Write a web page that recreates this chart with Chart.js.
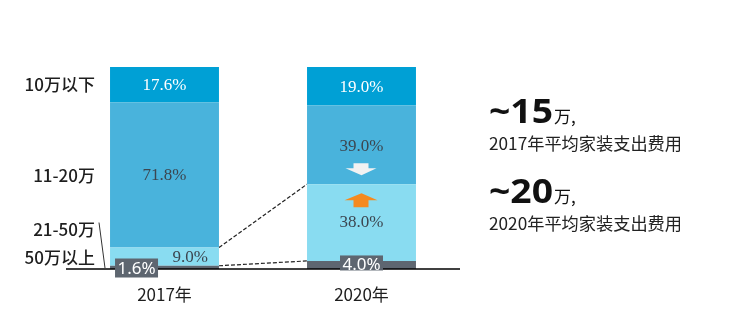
<!DOCTYPE html>
<html>
<head>
<meta charset="utf-8">
<script src="https://cdn.jsdelivr.net/npm/chart.js@4.4.0/dist/chart.umd.min.js"></script>
<style>
html,body{margin:0;padding:0;background:#fff;}
#wrap{position:relative;width:740px;height:319px;}
</style>
</head>
<body>
<div id="wrap"><canvas id="c" width="740" height="319"></canvas></div>
<script>
// ---- data ----
const years = ['2017年', '2020年'];
const tierNames = ['50万以上', '21-50万', '11-20万', '10万以下']; // bottom -> top
const over50 = [1.6, 4.0];
const from21to50 = [9.0, 38.0];
const from11to20 = [71.8, 39.0];
const under10 = [17.6, 19.0];
const avgSpend = ['~15', '~20'];
const avgSpendUnit = '万,';
const avgSpendCaption = ['2017年平均家装支出费用', '2020年平均家装支出费用'];

const colors = ['#5e6670', '#89dcf1', '#49b3dc', '#00a0d5'];
const seriesValues = [over50, from21to50, from11to20, under10];

const SERIF = '"Liberation Serif", "DejaVu Serif", serif';
const SANS = '"Noto Sans CJK SC", "Noto Sans", sans-serif';

function fitText(ctx, text, x, y, targetW, align) {
  const w = ctx.measureText(text).width;
  const s = targetW ? targetW / w : 1;
  ctx.save();
  ctx.translate(x, y);
  ctx.scale(s, 1);
  ctx.textAlign = align || 'left';
  ctx.fillText(text, 0, 0);
  ctx.restore();
  return w * s;
}

const decorPlugin = {
  id: 'decor',
  beforeDatasetsDraw(chart) {
    const ctx = chart.ctx;
    const metas = [0,1,2,3].map(i => chart.getDatasetMeta(i));
    ctx.save();
    ctx.strokeStyle = '#222';
    ctx.lineWidth = 1.2;
    ctx.setLineDash([4, 2]);
    const b17 = metas[1].data[0], b20 = metas[1].data[1];
    const r17 = b17.x + b17.width / 2, l20 = b20.x - b20.width / 2;
    ctx.beginPath();
    ctx.moveTo(r17, metas[1].data[0].y);
    ctx.lineTo(l20, metas[1].data[1].y);
    ctx.moveTo(r17, metas[0].data[0].y);
    ctx.lineTo(l20, metas[0].data[1].y);
    ctx.stroke();
    ctx.restore();
  },
  afterDatasetsDraw(chart) {
    const ctx = chart.ctx;
    const ca = chart.chartArea;
    const ys = chart.scales.y;
    const metas = [0,1,2,3].map(i => chart.getDatasetMeta(i));

    // baseline
    ctx.save();
    ctx.strokeStyle = '#000';
    ctx.lineWidth = 1.5;
    ctx.beginPath();
    ctx.moveTo(ca.left, ca.bottom);
    ctx.lineTo(ca.right, ca.bottom);
    ctx.stroke();
    ctx.restore();

    ctx.save();
    ctx.textBaseline = 'middle';
    ctx.font = '17px ' + SERIF;
    ctx.fillStyle = '#ffffff';
    metas[3].data.forEach((b, i) => {
      ctx.textAlign = 'center';
      ctx.fillText(under10[i].toFixed(1) + '%', b.x, (b.y + b.base) / 2 + 1);
    });
    ctx.fillStyle = '#3c4650';
    metas[2].data.forEach((b, i) => {
      ctx.textAlign = 'center';
      const dy = i === 1 ? 2 : 0;
      ctx.fillText(from11to20[i].toFixed(1) + '%', b.x, (b.y + b.base) / 2 + dy);
    });
    metas[1].data.forEach((b, i) => {
      const cy = (b.y + b.base) / 2;
      if (i === 0) {
        ctx.textAlign = 'right';
        ctx.fillText(from21to50[i].toFixed(1) + '%', b.x + b.width / 2 - 11, cy + 1);
      } else {
        ctx.textAlign = 'center';
        ctx.fillText(from21to50[i].toFixed(1) + '%', b.x, cy);
      }
    });
    // 50+ labels in grey boxes
    ctx.font = '17px "Noto Sans", "Open Sans", sans-serif';
    metas[0].data.forEach((b, i) => {
      const txt = over50[i].toFixed(1) + '%';
      const w = 43, h = i === 0 ? 19 : 15;
      let cx, cy;
      if (i === 0) { cx = b.x - b.width / 2 + 5 + w / 2; cy = b.base - 1; }
      else { cx = b.x; cy = (b.y + b.base) / 2 - 1; }
      ctx.fillStyle = '#5e6670';
      ctx.fillRect(cx - w / 2, cy - h / 2 + (i === 0 ? 0 : -1), w, h);
      ctx.fillStyle = '#ffffff';
      ctx.textAlign = 'center';
      ctx.fillText(txt, cx, cy + 1);
    });

    // arrows in 2020 bar
    const bx = metas[2].data[1].x;
    const midY = metas[2].data[1].base;
    ctx.fillStyle = '#f2f2f2';
    ctx.beginPath();
    ctx.moveTo(bx - 8, midY - 21);
    ctx.lineTo(bx + 7, midY - 21);
    ctx.lineTo(bx + 7, midY - 16);
    ctx.lineTo(bx + 15, midY - 16);
    ctx.lineTo(bx, midY - 9);
    ctx.lineTo(bx - 16, midY - 16);
    ctx.lineTo(bx - 8, midY - 16);
    ctx.closePath();
    ctx.fill();
    ctx.fillStyle = '#f58a1f';
    ctx.beginPath();
    ctx.moveTo(bx, midY + 9);
    ctx.lineTo(bx + 16, midY + 16);
    ctx.lineTo(bx + 7, midY + 16);
    ctx.lineTo(bx + 7, midY + 23);
    ctx.lineTo(bx - 8, midY + 23);
    ctx.lineTo(bx - 8, midY + 16);
    ctx.lineTo(bx - 17, midY + 16);
    ctx.closePath();
    ctx.fill();

    // left category labels
    ctx.fillStyle = '#1e1e1e';
    ctx.font = '500 17px ' + SANS;
    ctx.textAlign = 'right';
    const lx = ca.left + 29;
    const c0 = metas[3].data[0], c1 = metas[2].data[0];
    ctx.fillText(tierNames[3], lx, (c0.y + c0.base) / 2);
    ctx.fillText(tierNames[2], lx, (c1.y + c1.base) / 2);
    ctx.fillText(tierNames[1], lx, ys.getPixelForValue(19.5));
    ctx.fillText(tierNames[0], lx, ys.getPixelForValue(5.6));
    ctx.strokeStyle = '#333';
    ctx.lineWidth = 1;
    ctx.beginPath();
    ctx.moveTo(lx + 4, ys.getPixelForValue(23));
    ctx.lineTo(lx + 10, ca.bottom - 1);
    ctx.stroke();

    // right annotations
    ctx.fillStyle = '#111';
    ctx.textBaseline = 'alphabetic';
    const rx = 489;
    const base1 = [123, 203];
    const cap = [144, 224];
    for (let k = 0; k < 2; k++) {
      ctx.font = 'bold 34px "Noto Sans", "Open Sans", sans-serif';
      const w = fitText(ctx, avgSpend[k], rx, base1[k], 64, 'left');
      ctx.font = '17px ' + SANS;
      fitText(ctx, avgSpendUnit, rx + w + 1, base1[k], null, 'left');
      ctx.textBaseline = 'middle';
      ctx.fillStyle = '#222';
      ctx.font = '17px ' + SANS;
      fitText(ctx, avgSpendCaption[k], rx, cap[k], 193, 'left');
      ctx.textBaseline = 'alphabetic';
      ctx.fillStyle = '#111';
    }
    ctx.restore();
  }
};

new Chart(document.getElementById('c'), {
  type: 'bar',
  data: {
    labels: years,
    datasets: seriesValues.map((vals, i) => ({
      label: tierNames[i],
      data: vals,
      backgroundColor: colors[i],
      borderWidth: 0,
      barPercentage: 0.553,
      categoryPercentage: 1.0
    }))
  },
  options: {
    responsive: false,
    animation: false,
    events: [],
    layout: { padding: { left: 66, right: 280, top: 67, bottom: 0 } },
    plugins: { legend: { display: false }, tooltip: { enabled: false }, title: { display: false } },
    scales: {
      x: {
        stacked: true,
        grid: { display: false, drawTicks: false },
        border: { display: false },
        ticks: { color: '#1e1e1e', font: { family: SANS, size: 17 }, padding: 15 },
        afterFit(s) { s.height = 50; }
      },
      y: { stacked: true, display: false, min: 0, max: 100 }
    }
  },
  plugins: [decorPlugin]
});
</script>
</body>
</html>
